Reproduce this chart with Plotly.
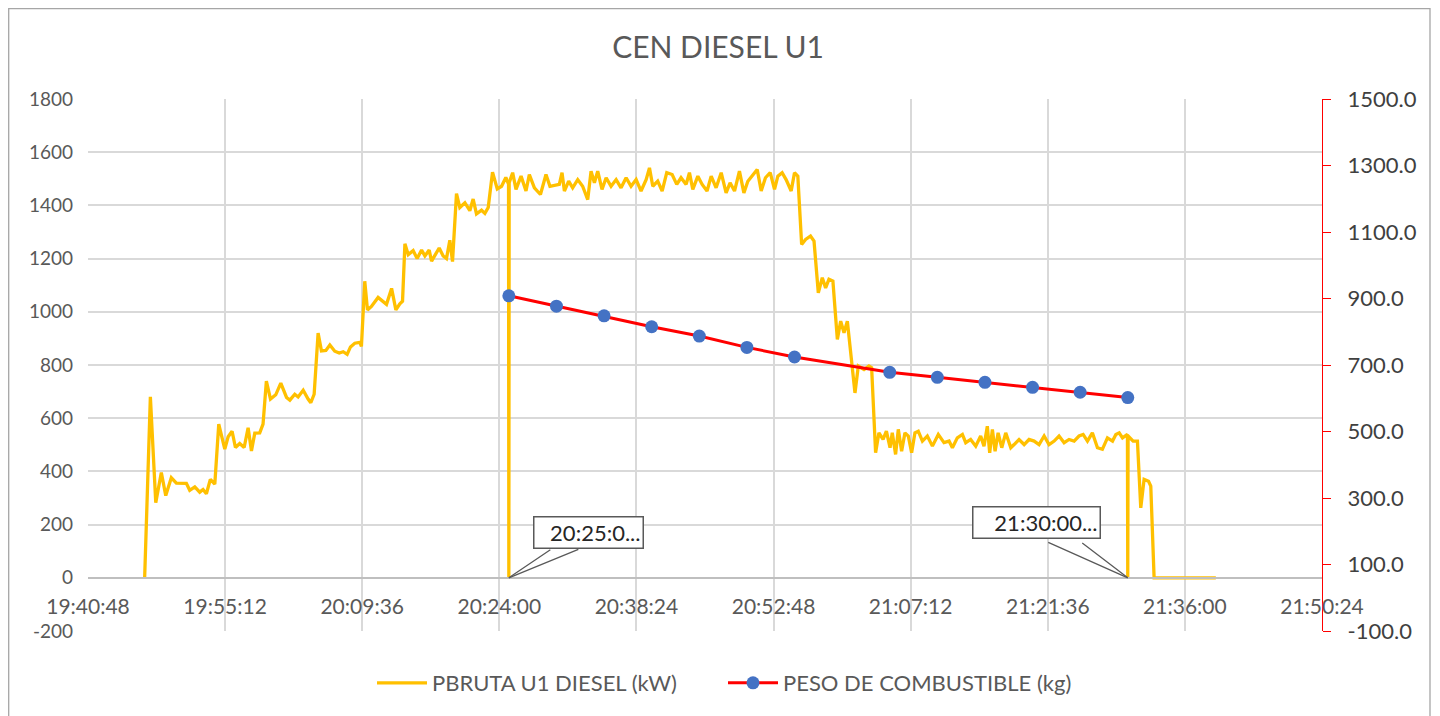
import plotly.graph_objects as go

DAY = "2023-01-01 "

# ---------------- data ----------------
power_times = [
    "19:46:45", "19:47:21", "19:47:55", "19:48:30", "19:48:58", "19:49:33", "19:50:05", "19:51:08",
    "19:51:29", "19:52:01", "19:52:32", "19:52:53", "19:53:14", "19:53:39", "19:54:07", "19:54:32",
    "19:55:10", "19:55:31", "19:55:56", "19:56:17", "19:56:44", "19:57:12", "19:57:37", "19:57:58",
    "19:58:19", "19:58:50", "19:59:11", "19:59:32", "19:59:58", "20:00:31", "20:01:03", "20:01:39",
    "20:02:00", "20:02:31", "20:02:52", "20:03:24", "20:03:55", "20:04:12", "20:04:33", "20:04:58",
    "20:05:19", "20:05:47", "20:06:12", "20:06:43", "20:07:11", "20:07:36", "20:08:01", "20:08:22",
    "20:08:49", "20:09:21", "20:09:31", "20:09:52", "20:10:09", "20:10:34", "20:11:16", "20:12:09",
    "20:12:41", "20:13:08", "20:13:33", "20:13:50", "20:14:05", "20:14:26", "20:14:57", "20:15:22",
    "20:15:50", "20:16:11", "20:16:38", "20:16:53", "20:17:14", "20:17:41", "20:18:06", "20:18:27",
    "20:18:48", "20:19:05", "20:19:30", "20:19:51", "20:20:23", "20:20:54", "20:21:15", "20:21:36",
    "20:22:08", "20:22:29", "20:22:50", "20:23:17", "20:23:47", "20:24:14", "20:24:41", "20:24:58",
    "20:25:00", "20:25:02", "20:25:24", "20:25:45", "20:26:17", "20:26:48", "20:27:09", "20:27:41",
    "20:28:19", "20:28:54", "20:29:19", "20:29:47", "20:30:18", "20:30:35", "20:30:50", "20:31:17",
    "20:31:42", "20:32:14", "20:32:45", "20:33:17", "20:33:38", "20:33:59", "20:34:20", "20:34:47",
    "20:35:13", "20:35:44", "20:36:16", "20:36:47", "20:37:19", "20:37:50", "20:38:22", "20:38:53",
    "20:39:25", "20:39:46", "20:40:07", "20:40:38", "20:41:06", "20:41:35", "20:42:09", "20:42:38",
    "20:43:05", "20:43:37", "20:43:58", "20:44:19", "20:44:51", "20:45:18", "20:45:49", "20:46:15",
    "20:46:46", "20:47:18", "20:47:49", "20:48:14", "20:48:42", "20:49:13", "20:49:41", "20:50:06",
    "20:50:37", "20:51:05", "20:51:30", "20:51:57", "20:52:27", "20:52:54", "20:53:15", "20:53:42",
    "20:54:07", "20:54:39", "20:55:00", "20:55:21", "20:55:45", "20:56:10", "20:56:41", "20:57:03",
    "20:57:30", "20:57:55", "20:58:16", "20:58:37", "20:59:02", "20:59:30", "20:59:51", "21:00:12",
    "21:00:33", "21:01:00", "21:01:21", "21:01:42", "21:02:18", "21:02:49", "21:03:06", "21:03:31",
    "21:03:52", "21:04:18", "21:04:39", "21:05:02", "21:05:16", "21:05:37", "21:05:54", "21:06:15",
    "21:06:36", "21:06:57", "21:07:18", "21:07:39", "21:08:00", "21:08:26", "21:08:57", "21:09:29",
    "21:10:06", "21:10:42", "21:11:14", "21:11:35", "21:12:06", "21:12:38", "21:12:59", "21:13:30",
    "21:14:02", "21:14:33", "21:14:54", "21:15:15", "21:15:30", "21:15:47", "21:16:04", "21:16:23",
    "21:16:46", "21:17:11", "21:17:43", "21:18:04", "21:18:35", "21:19:07", "21:19:38", "21:20:10",
    "21:20:41", "21:21:13", "21:21:44", "21:22:16", "21:22:47", "21:23:19", "21:23:50", "21:24:22",
    "21:24:53", "21:25:19", "21:25:46", "21:26:17", "21:26:49", "21:27:20", "21:27:52", "21:28:24",
    "21:28:45", "21:29:06", "21:29:27", "21:29:58", "21:30:00", "21:30:02", "21:30:34", "21:31:01",
    "21:31:22", "21:31:43", "21:32:11", "21:32:25", "21:32:46", "21:39:15",
]
power_kw = [
    0, 680, 282, 396, 309, 376, 356, 355,
    329, 342, 322, 332, 316, 370, 352, 578,
    484, 530, 551, 490, 505, 490, 564, 477,
    544, 545, 578, 739, 672, 688, 732, 678,
    668, 690, 680, 705, 672, 658, 690, 920,
    853, 855, 875, 852, 845, 850, 840, 868,
    882, 885, 870, 1115, 1007, 1020, 1054, 1028,
    1088, 1007, 1030, 1040, 1256, 1215, 1230, 1200,
    1232, 1210, 1232, 1190, 1212, 1240, 1210, 1200,
    1269, 1189, 1444, 1392, 1410, 1380, 1424, 1368,
    1382, 1370, 1392, 1525, 1462, 1472, 1505, 1480,
    0, 1485, 1523, 1460, 1510, 1454, 1516, 1466,
    1441, 1516, 1472, 1475, 1479, 1523, 1454, 1491,
    1466, 1497, 1472, 1422, 1529, 1485, 1529, 1460,
    1504, 1472, 1497, 1466, 1504, 1472, 1497, 1454,
    1497, 1541, 1472, 1491, 1454, 1523, 1516, 1479,
    1504, 1479, 1523, 1460, 1510, 1479, 1454, 1510,
    1466, 1523, 1447, 1485, 1454, 1529, 1447, 1491,
    1516, 1535, 1454, 1504, 1523, 1460, 1510, 1523,
    1497, 1454, 1523, 1510, 1253, 1272, 1285, 1266,
    1071, 1128, 1090, 1122, 1115, 896, 965, 921,
    965, 796, 695, 796, 783, 796, 790, 470,
    545, 520, 551, 489, 545, 464, 558, 476,
    545, 533, 470, 545, 551, 514, 533, 495,
    539, 508, 514, 489, 526, 539, 508, 520,
    495, 533, 495, 570, 470, 558, 476, 545,
    489, 545, 489, 501, 520, 501, 520, 514,
    501, 533, 501, 514, 533, 508, 520, 514,
    533, 539, 514, 545, 489, 483, 526, 514,
    539, 545, 526, 539, 0, 533, 514, 514,
    263, 370, 363, 345, 0, 0,
]

fuel_times = ["20:25:00", "20:30:00", "20:35:00", "20:40:00", "20:45:00", "20:50:00", "20:55:00",
              "21:05:00", "21:10:00", "21:15:00", "21:20:00", "21:25:00", "21:30:00"]
fuel_kg = [908, 877, 848, 815, 787, 753, 724, 678, 663, 648, 633, 618, 602]

x_tick_labels = ["19:40:48", "19:55:12", "20:09:36", "20:24:00", "20:38:24",
                 "20:52:48", "21:07:12", "21:21:36", "21:36:00", "21:50:24"]
left_ticks = [-200, 0, 200, 400, 600, 800, 1000, 1200, 1400, 1600, 1800]
right_ticks = [-100, 100, 300, 500, 700, 900, 1100, 1300, 1500]

callout_points = ["20:25:00", "21:30:00"]
callout_texts = ["20:25:0...", "21:30:00..."]

series_names = ["PBRUTA U1 DIESEL (kW)", "PESO DE COMBUSTIBLE (kg)"]
title_text = "CEN DIESEL U1"

# ---------------- figure ----------------
# page body has an 8px margin, so the figure is sized/offset to compensate
FONT = "Lato"
W, H = 1432, 708
ML, MT = 80, 91
PLOT_R, PLOT_B = 1314, 623
MR, MB = W - PLOT_R, H - PLOT_B
PW, PH = PLOT_R - ML, PLOT_B - MT

fig = go.Figure()
fig.add_trace(go.Scatter(
    x=[DAY + t for t in power_times], y=power_kw, name=series_names[0],
    mode="lines", line=dict(color="#FFC000", width=3.3), yaxis="y",
))
fig.add_trace(go.Scatter(
    x=[DAY + t for t in fuel_times], y=fuel_kg, name=series_names[1],
    mode="lines+markers", line=dict(color="#FF0000", width=3),
    marker=dict(color="#4472C4", size=13), yaxis="y2",
))

annotations = []
box_specs = [
    dict(xs=80, ys=45, w=104, wedge=[(43, -29), (71, -29)]),
    dict(xs=-91, ys=55, w=122, wedge=[(-81, -36), (-47, -36)]),
]
for t, txt, spec in zip(callout_points, callout_texts, box_specs):
    for ax, ay in spec["wedge"]:
        annotations.append(dict(
            x=DAY + t, y=0, xref="x", yref="y", text="", showarrow=True,
            arrowhead=0, arrowwidth=1.3, arrowcolor="#595959", ax=ax, ay=ay,
            standoff=0, startstandoff=0,
        ))
    annotations.append(dict(
        x=DAY + t, y=0, xref="x", yref="y", text=txt, showarrow=False,
        xshift=spec["xs"], yshift=spec["ys"], width=spec["w"], height=26,
        bgcolor="white", bordercolor="#595959", borderwidth=1.5, borderpad=2,
        font=dict(family=FONT, size=22, color="#262626"), align="right",
    ))

fig.update_layout(
    width=W, height=H,
    margin=dict(l=ML, r=MR, t=MT, b=MB, autoexpand=False),
    paper_bgcolor="white", plot_bgcolor="white",
    title=dict(text=title_text, x=(718 - 8) / W, xref="container", xanchor="center",
               y=1 - 39 / H, yref="container", yanchor="middle",
               font=dict(family=FONT, size=30, color="#595959")),
    font=dict(family=FONT, size=20, color="#595959"),
    showlegend=True,
    legend=dict(orientation="h", x=(715 - ML) / PW, xref="paper", xanchor="center",
                y=(PLOT_B - 675) / PH, yref="paper", yanchor="middle",
                font=dict(family=FONT, size=22, color="#595959"),
                itemwidth=50, entrywidth=286, entrywidthmode="pixels",
                bgcolor="rgba(0,0,0,0)"),
    xaxis=dict(
        type="date", range=[DAY + x_tick_labels[0], DAY + x_tick_labels[-1]],
        tickvals=[DAY + t for t in x_tick_labels], ticktext=x_tick_labels,
        anchor="free", position=(0 - left_ticks[0]) / (left_ticks[-1] - left_ticks[0]),
        showline=True, linecolor="#bfbfbf", linewidth=1.5,
        showgrid=True, gridcolor="#d9d9d9", gridwidth=1.5,
        ticks="", ticklabelstandoff=10, zeroline=False,
        tickfont=dict(family=FONT, size=21, color="#595959"),
    ),
    yaxis=dict(
        range=[left_ticks[0], left_ticks[-1]], tickvals=left_ticks,
        ticktext=[str(v) for v in left_ticks],
        showgrid=True, gridcolor="#d9d9d9", gridwidth=1.5, zeroline=False,
        showline=False, ticks="", ticklabelstandoff=14,
        tickfont=dict(family=FONT, size=19, color="#595959"),
    ),
    yaxis2=dict(
        range=[right_ticks[0], right_ticks[-1]], tickvals=right_ticks,
        ticktext=[f"{v:.1f}" for v in right_ticks], overlaying="y", side="right", anchor="x",
        showgrid=False, zeroline=False, showline=True, linecolor="#FF0000",
        linewidth=1.3, ticks="outside", tickcolor="#FF0000", ticklen=8, tickwidth=1.3,
        ticklabelstandoff=12,
        tickfont=dict(family=FONT, size=22, color="#404040"),
    ),
    annotations=annotations,
    shapes=[dict(type="rect", xref="paper", yref="paper",
                 x0=(0.7 - ML) / PW, x1=(1422 - ML) / PW,
                 y0=(PLOT_B - 730) / PH, y1=(PLOT_B - 0.7) / PH,
                 line=dict(color="#a6a6a6", width=1.3), fillcolor="rgba(0,0,0,0)",
                 layer="below")],
)

fig.write_html("out.html")
